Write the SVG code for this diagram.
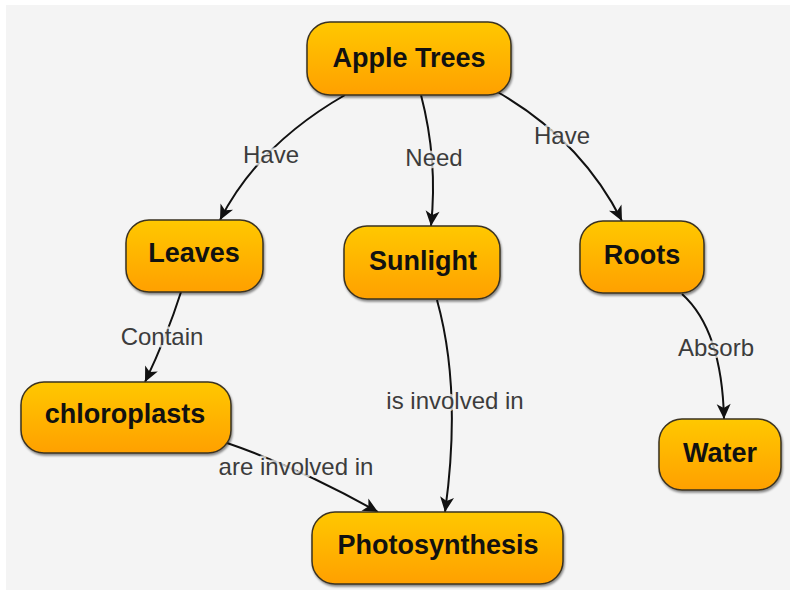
<svg xmlns="http://www.w3.org/2000/svg" width="790" height="590" viewBox="0 0 790 590">
<defs>
<linearGradient id="g" x1="0" y1="0" x2="0" y2="1">
<stop offset="0" stop-color="#ffc800"/>
<stop offset="1" stop-color="#ffa000"/>
</linearGradient>
<filter id="sh" x="-10%" y="-10%" width="120%" height="130%">
<feDropShadow dx="1" dy="2" stdDeviation="1" flood-color="#000" flood-opacity="0.45"/>
</filter>
<marker id="ar" markerUnits="userSpaceOnUse" markerWidth="18" markerHeight="16" viewBox="-1 -8 18 16" refX="15" refY="0" orient="auto">
<path d="M0,-7 L15,0 L0,7 L4,0 z" fill="#111"/>
</marker>
<style>
.box{fill:url(#g);stroke:#3b3320;stroke-width:1.5;filter:url(#sh)}
.nt{font-family:"Liberation Sans",Arial,sans-serif;font-weight:bold;font-size:27px;fill:#111;text-anchor:middle}
.edge{fill:none;stroke:#111;stroke-width:2;marker-end:url(#ar)}
.lb{font-family:"Liberation Sans",Arial,sans-serif;font-size:24px;fill:#3c3c3c;text-anchor:middle;stroke:#f4f4f4;stroke-width:5;stroke-opacity:0.75;paint-order:stroke;stroke-linejoin:round}
</style>
</defs>
<rect x="6" y="5" width="784" height="585" fill="#f4f4f4"/>
<g id="connectors">
<path class="edge" d="M345,95 Q258,145 220,220"/>
<path class="edge" d="M421,95 Q438,160 431,226"/>
<path class="edge" d="M494,90 Q580,138 622,221"/>
<path class="edge" d="M181,292 Q167,336 145,382"/>
<path class="edge" d="M227,443 Q300,468 378,512"/>
<path class="edge" d="M437,300 Q462,390 445,512"/>
<path class="edge" d="M682,294 Q722,330 724,419"/>
<text class="lb" x="271" y="163">Have</text>
<text class="lb" x="434" y="166">Need</text>
<text class="lb" x="562" y="144">Have</text>
<text class="lb" x="162" y="345">Contain</text>
<text class="lb" x="716" y="356">Absorb</text>
<text class="lb" x="455" y="409">is involved in</text>
<text class="lb" x="296" y="475">are involved in</text>
</g>
<g id="apple-trees"><rect class="box" x="307" y="22" width="204" height="73" rx="23"/><text class="nt" x="409" y="67">Apple Trees</text></g>
<g id="leaves"><rect class="box" x="126" y="220" width="137" height="72" rx="23"/><text class="nt" x="194" y="262">Leaves</text></g>
<g id="sunlight"><rect class="box" x="344" y="226" width="156" height="73" rx="23"/><text class="nt" x="423" y="270">Sunlight</text></g>
<g id="roots"><rect class="box" x="580" y="221" width="124" height="72" rx="23"/><text class="nt" x="642" y="264">Roots</text></g>
<g id="chloroplasts"><rect class="box" x="21" y="382" width="210" height="71" rx="23"/><text class="nt" x="125" y="423">chloroplasts</text></g>
<g id="water"><rect class="box" x="659" y="419" width="122" height="71" rx="23"/><text class="nt" x="720" y="462">Water</text></g>
<g id="photosynthesis"><rect class="box" x="312" y="512" width="251" height="72" rx="23"/><text class="nt" x="438" y="554">Photosynthesis</text></g>
</svg>
